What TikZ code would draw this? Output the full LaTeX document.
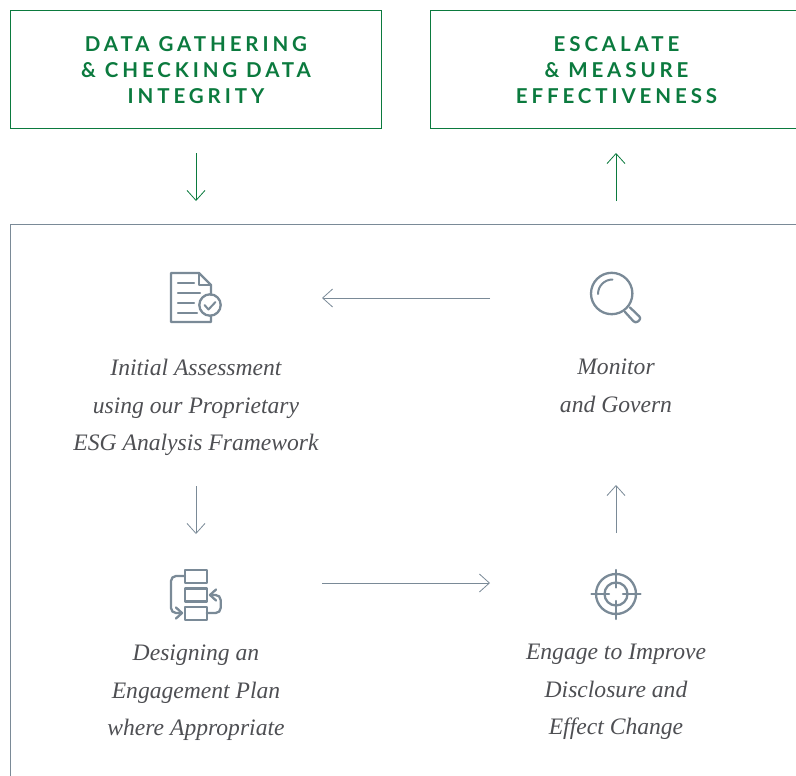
\documentclass[tikz,border=0pt]{standalone}
\usepackage{fontspec}
\usetikzlibrary{arrows.meta}
\setmainfont{Liberation Serif}
\newfontfamily\headfont[LetterSpace=19,Ligatures=NoCommon]{Lato Bold}
\definecolor{grn}{HTML}{0B7A3E}
\definecolor{slate}{HTML}{7A8A97}
\definecolor{txt}{HTML}{4E4F53}
\tikzset{
 x=1pt,y=-1pt,
 headbox/.style={draw=grn,line width=1pt,minimum height=117.5pt,align=center,inner sep=0pt,text=grn,font=\headfont\fontsize{20.5}{26}\selectfont},
 steptext/.style={align=center,text=txt,inner sep=0pt,font=\itshape\fontsize{23.6}{37.5}\selectfont},
 garrow/.style={draw=grn,line width=0.8pt,-{Straight Barb[length=10pt,width=18pt,line width=0.8pt]}},
 sarrow/.style={draw=slate,line width=0.8pt,-{Straight Barb[length=10pt,width=18pt,line width=0.8pt]}},
 icon/.style={draw=slate,line width=2.3pt,line join=round,line cap=round},
}
\begin{document}
\begin{tikzpicture}
\useasboundingbox (0,0) rectangle (796,776);
% top boxes
\node[draw=grn,line width=1pt,minimum width=371pt,minimum height=117.5pt] (gatherbox) at (196,69.5) {};
\node[headbox,draw=none,minimum height=0pt] (gather) at (196,70.5) {DATA GATHERING\\\& CHECKING DATA\\INTEGRITY};
\draw[draw=grn,line width=1pt] (796,10.7) -- (430.5,10.7) -- (430.5,128) -- (796,128);
\node[align=center,text=grn,inner sep=0pt,font=\headfont\fontsize{20.5}{26}\selectfont] (escalate) at (616.5,70.5) {ESCALATE\\\& MEASURE\\EFFECTIVENESS};
% panel
\draw[draw=slate,line width=1.1pt] (796,224.7) -- (10.5,224.7) -- (10.5,776);
% anchors
\coordinate (g1) at (196,153); \coordinate (g2) at (196,201);
\coordinate (e1) at (616,201); \coordinate (e2) at (616,153);
\coordinate (m1) at (490,298); \coordinate (m2) at (322,298);
\coordinate (a1) at (196,486); \coordinate (a2) at (196,534);
\coordinate (d1) at (322,583); \coordinate (d2) at (490,583);
\coordinate (c1) at (616,533); \coordinate (c2) at (616,485);
\draw[garrow] (g1) -- (g2);
\draw[garrow] (e1) -- (e2);
\draw[sarrow] (m1) -- (m2);
\draw[sarrow] (a1) -- (a2);
\draw[sarrow] (d1) -- (d2);
\draw[sarrow] (c1) -- (c2);
% texts
\node[steptext] (assess) at (196,407.5) {Initial Assessment\\using our Proprietary\\ESG Analysis Framework};
\node[steptext] (monitor) at (616,386) {Monitor\\and Govern};
\node[steptext] (design) at (196,693) {Designing an\\Engagement Plan\\where Appropriate};
\node[steptext] (engage) at (616,692) {Engage to Improve\\Disclosure and\\Effect Change};
% document icon
\draw[icon] (211,295) -- (211,285) -- (199,273) -- (171,273) -- (171,322) -- (211,322) -- (211,316);
\draw[icon] (199,273) -- (199,285) -- (211,285);
\draw[icon] (178,283) -- (194,283) (178,293) -- (200,293) (178,303) -- (194,303) (178,313) -- (197,313);
\draw[icon] (210,305) circle (10.7);
\draw[icon,line width=2pt] (204.5,305) -- (208.5,309.5) -- (215.5,302);
% plan icon
\draw[icon] (185,570) rectangle (206.7,583);
\draw[icon] (185,588.5) rectangle (206.7,601.5);
\draw[icon] (185,607) rectangle (206.7,620);
\draw[icon] (185,576) -- (176,576) to[out=180,in=90] (171,581) -- (171,608) to[out=270,in=180] (176,613) -- (182,613);
\draw[icon] (176,607.5) -- (182,613) -- (176,618.5);
\draw[icon] (206.7,613) -- (215.7,613) to[out=0,in=270] (220.7,608) -- (220.7,600) to[out=90,in=0] (215.7,595) -- (210,595);
\draw[icon] (216,589.5) -- (210,595) -- (216,600.5);
% magnifier icon
\draw[icon] (611.7,293.5) circle (20.7);
\draw[icon,line width=2pt] (598,294) arc[start angle=180,end angle=270,radius=14.5];
\draw[icon,rounded corners=3pt] (630,307.5) -- (641.5,318.5) -- (635.5,323.5) -- (625,312);
% target icon
\draw[icon] (616,594) circle (20);
\draw[icon] (616,594) circle (11.5);
\draw[icon] (616,570) -- (616,587.5) (616,601) -- (616,619);
\draw[icon] (591.5,594) -- (609,594) (623,594) -- (640.5,594);
\end{tikzpicture}
\end{document}
